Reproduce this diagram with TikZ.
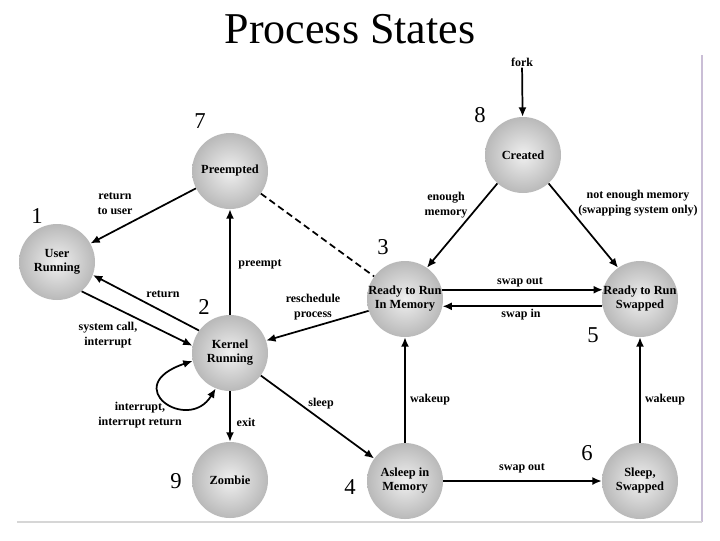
\documentclass[tikz,border=0pt]{standalone}
\usepackage{fontspec}
\setmainfont{Liberation Serif}
\usetikzlibrary{arrows.meta}

\definecolor{framegray}{RGB}{214,214,214}
\definecolor{framelilac}{RGB}{202,190,214}

\tikzset{
  state/.style={circle, minimum size=57pt, inner sep=-3pt, shading=radial,
    inner color=gray!12, outer color=gray!55, align=center,
    font=\bfseries\fontsize{9.3}{10.5}\selectfont},
  lbl/.style={inner sep=0.75pt, align=center, font=\bfseries\fontsize{9}{11}\selectfont},
  num/.style={inner sep=0.75pt, font=\fontsize{17}{17}\selectfont},
  trans/.style={line width=1.3pt, ->},
}

\begin{document}
\begin{tikzpicture}[x=0.75pt,y=0.75pt,yscale=-1,xscale=1,>={Latex[length=7pt,width=6pt]}]
        \useasboundingbox (0,0) rectangle (720,540);

        %Shape: Frame
        \draw [framelilac, line width=0.8pt] (702,55) -- (702,522);
        \draw [framegray, line width=0.8pt] (17,522) -- (702,522);

        % Text Node
        \node [font=\fontsize{33}{36}\selectfont, inner sep=0pt] (title) at (350,29) {Process States};

        %Shape: Circle
        \node [state] (user) at (57,262) {User\\Running};
        %Shape: Circle
        \node [state] (preempted) at (230,171) {Preempted};
        %Shape: Circle
        \node [state] (kernel) at (230,353) {Kernel\\Running};
        %Shape: Circle
        \node [state] (zombie) at (230,480) {Zombie};
        %Shape: Circle
        \node [state] (ready) at (405,299) {Ready to Run\\In Memory};
        %Shape: Circle
        \node [state] (created) at (523,155) {Created};
        %Shape: Circle
        \node [state] (swapped) at (640,299) {Ready to Run\\Swapped};
        %Shape: Circle
        \node [state] (asleep) at (405,481) {Asleep in\\Memory};
        %Shape: Circle
        \node [state] (sleepswap) at (640,481) {Sleep,\\Swapped};

        % Text Node
        \node [num] (n1) at (37,216) {1};
        \node [num] (n2) at (204,307) {2};
        \node [num] (n3) at (383,247) {3};
        \node [num] (n4) at (350,487) {4};
        \node [num] (n5) at (593,335) {5};
        \node [num] (n6) at (587,453) {6};
        \node [num] (n7) at (200,121) {7};
        \node [num] (n8) at (480,115) {8};
        \node [num] (n9) at (176,481) {9};

        % Text Node
        \node [lbl] (fork) at (522,62) {fork};

        %Straight Lines
        \draw [trans] (fork) -- (created);
        \draw [trans] (preempted.207) -- (user.29);
        \draw [trans] (kernel.144) -- (user.-20);
        \draw [trans] (user.-50) -- (kernel.169);
        \draw [trans] (kernel) -- (preempted);
        \draw [trans] (ready.198) -- (kernel.19);
        \draw [line width=1.3pt, dash pattern=on 5pt off 3pt] (preempted) -- (ready);
        \draw [trans] (kernel) -- (zombie);
        \draw [trans] (kernel) -- (asleep);
        \draw [trans] (asleep) -- (ready);
        \draw [trans] (asleep) -- (sleepswap);
        \draw [trans] (sleepswap) -- (swapped);
        \draw [trans] (ready.14) -- (swapped.166);
        \draw [trans] (swapped.191) -- (ready.-11);
        \draw [trans] (created.-132) -- (ready.55);
        \draw [trans] (created.-48) -- (swapped.125);
        %Curve Lines
        \draw [line width=1.3pt, <->] (kernel.192) .. controls (118,386) and (188,434) .. (kernel.248);

        % Text Node
        \node [lbl] (l_retuser) at (115,204) {return\\to user};
        \node [lbl] (l_ret) at (163,294) {return};
        \node [lbl] (l_syscall) at (108,335) {system call,\\interrupt};
        \node [lbl] (l_preempt) at (260,264) {preempt};
        \node [lbl] (l_resched) at (313,307) {reschedule\\process};
        \node [lbl] (l_intr) at (140,415) {interrupt,\\interrupt return};
        \node [lbl] (l_exit) at (246,422) {exit};
        \node [lbl] (l_sleep) at (321,404) {sleep};
        \node [lbl] (l_wake1) at (430,400) {wakeup};
        \node [lbl] (l_swapout2) at (522,468) {swap out};
        \node [lbl] (l_wake2) at (665,400) {wakeup};
        \node [lbl] (l_swapout1) at (520,282) {swap out};
        \node [lbl] (l_swapin) at (521,315) {swap in};
        \node [lbl] (l_enough) at (446,205) {enough\\memory};
        \node [lbl] (l_notenough) at (638,203) {not enough memory\\(swapping system only)};

\end{tikzpicture}
\end{document}
